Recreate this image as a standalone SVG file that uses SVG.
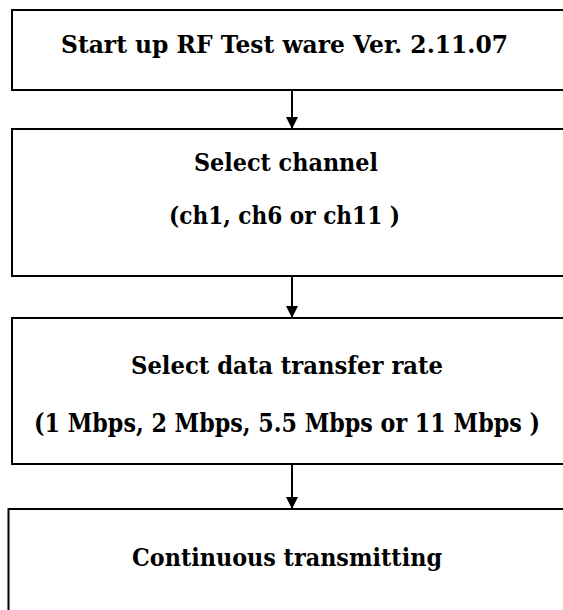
<svg xmlns="http://www.w3.org/2000/svg" width="563" height="610" viewBox="0 0 563 610">
<defs>
<style>
.box{fill:#fff;stroke:#000;stroke-width:2}
.t{font-family:"DejaVu Serif","Liberation Serif",serif;font-weight:bold;font-size:25px;fill:#000;text-anchor:middle}
.c{stroke:#000;stroke-width:2;fill:none}
</style>
<marker id="ah" markerWidth="12" markerHeight="12" refX="12" refY="6" orient="auto" markerUnits="userSpaceOnUse">
<path d="M0,0 L12,6 L0,12 Z" fill="#000"/>
</marker>
</defs>
<rect width="563" height="610" fill="#fff"/>
<g id="n1">
<rect class="box" x="12" y="10" width="570" height="80"/>
<text class="t" x="284.5" y="53" textLength="447" lengthAdjust="spacingAndGlyphs">Start up RF Test ware Ver. 2.11.07</text>
</g>
<g id="n2">
<rect class="box" x="12" y="129" width="570" height="147"/>
<text class="t" x="286" y="171" textLength="184" lengthAdjust="spacingAndGlyphs">Select channel</text>
<text class="t" x="284.5" y="224" textLength="231" lengthAdjust="spacingAndGlyphs">(ch1, ch6 or ch11 )</text>
</g>
<g id="n3">
<rect class="box" x="12" y="318" width="570" height="146"/>
<text class="t" x="287" y="374" textLength="312" lengthAdjust="spacingAndGlyphs">Select data transfer rate</text>
<text class="t" x="287" y="379" transform="scale(1,1.14)" style="font-size:22px" textLength="506" lengthAdjust="spacingAndGlyphs">(1 Mbps, 2 Mbps, 5.5 Mbps or 11 Mbps )</text>
</g>
<g id="n4">
<rect class="box" x="8.5" y="509" width="575" height="120"/>
<text class="t" x="287" y="566" textLength="310" lengthAdjust="spacingAndGlyphs">Continuous transmitting</text>
</g>
<g id="connectors">
<line class="c" x1="292" y1="90" x2="292" y2="129" marker-end="url(#ah)"/>
<line class="c" x1="292" y1="276" x2="292" y2="318" marker-end="url(#ah)"/>
<line class="c" x1="292" y1="464" x2="292" y2="509" marker-end="url(#ah)"/>
</g>
</svg>
